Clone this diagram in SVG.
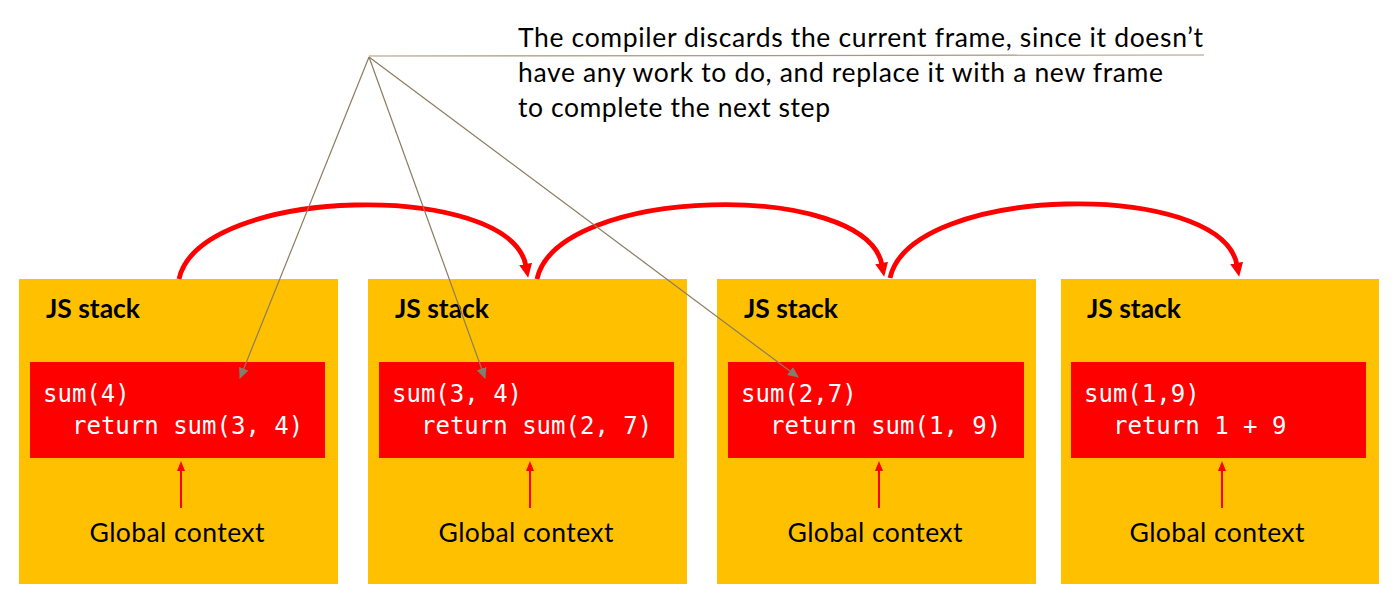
<svg xmlns="http://www.w3.org/2000/svg" width="1400" height="605" viewBox="0 0 1400 605">
<defs>
<style>
.box{fill:#FFC000;}
.frame{fill:#FF0000;}
.title{font-family:Lato,"Open Sans","Liberation Sans",sans-serif;font-weight:bold;font-size:26.5px;fill:#000;}
.code{font-family:"DejaVu Sans Mono","Liberation Mono",monospace;font-size:24px;fill:#fff;white-space:pre;}
.label{font-family:Lato,"Open Sans","Liberation Sans",sans-serif;font-size:26.5px;fill:#000;text-anchor:middle;}
.note{font-family:Lato,"Open Sans","Liberation Sans",sans-serif;font-size:26.5px;fill:#000;}
.jump{fill:none;stroke:#FF0000;stroke-width:4.8;marker-end:url(#redHead);}
.ctx{fill:none;stroke:#FF0000;stroke-width:2;marker-end:url(#smallRed);}
.pointer{fill:none;stroke:#8c7c5e;stroke-width:1.2;marker-end:url(#grayHead);}
</style>
<marker id="redHead" markerUnits="userSpaceOnUse" viewBox="0 0 14 13" markerWidth="14" markerHeight="13" refX="2" refY="6.5" orient="auto">
<path d="M0,0 L14,6.5 L0,13 z" fill="#FF0000"/>
</marker>
<marker id="smallRed" markerUnits="userSpaceOnUse" viewBox="0 0 10 8" markerWidth="10" markerHeight="8" refX="1" refY="4" orient="auto">
<path d="M0,0 L10,4 L0,8 z" fill="#FF0000"/>
</marker>
<marker id="grayHead" markerUnits="userSpaceOnUse" viewBox="0 0 11 10" markerWidth="11" markerHeight="10" refX="10" refY="5" orient="auto">
<path d="M0,0 L11,5 L0,10 z" fill="#7f7f6f"/>
</marker>
</defs>

<g id="stack1">
<rect class="box" x="19" y="279" width="319" height="305"/>
<text class="title" x="46" y="318" textLength="94">JS stack</text>
<rect class="frame" x="30" y="362" width="295" height="96"/>
<text class="code" x="43" y="402">sum(4)</text>
<text class="code" x="72" y="434">return sum(3, 4)</text>
<text class="label" x="177" y="542" textLength="175">Global context</text>
</g>

<g id="stack2">
<rect class="box" x="368" y="279" width="319" height="305"/>
<text class="title" x="395" y="318" textLength="94">JS stack</text>
<rect class="frame" x="379" y="362" width="295" height="96"/>
<text class="code" x="392" y="402">sum(3, 4)</text>
<text class="code" x="421" y="434">return sum(2, 7)</text>
<text class="label" x="526" y="542" textLength="175">Global context</text>
</g>

<g id="stack3">
<rect class="box" x="717" y="279" width="319" height="305"/>
<text class="title" x="744" y="318" textLength="94">JS stack</text>
<rect class="frame" x="728" y="362" width="296" height="96"/>
<text class="code" x="741" y="402">sum(2,7)</text>
<text class="code" x="770" y="434">return sum(1, 9)</text>
<text class="label" x="875" y="542" textLength="175">Global context</text>
</g>

<g id="stack4">
<rect class="box" x="1061" y="279" width="318" height="305"/>
<text class="title" x="1087" y="318" textLength="94">JS stack</text>
<rect class="frame" x="1071" y="362" width="295" height="96"/>
<text class="code" x="1084" y="402">sum(1,9)</text>
<text class="code" x="1113" y="434">return 1 + 9</text>
<text class="label" x="1217" y="542" textLength="175">Global context</text>
</g>

<g id="annotation">
<text class="note" x="518" y="47" textLength="685">The compiler discards the current frame, since it doesn’t</text>
<text class="note" x="518" y="82" textLength="645">have any work to do, and replace it with a new frame</text>
<text class="note" x="518" y="117" textLength="312">to complete the next step</text>
</g>

<g id="connectors">
<path class="jump" d="M179,279 C200,185 510,180 526,266"/>
<path class="jump" d="M537,279 C558,185 866,180 882,265"/>
<path class="jump" d="M890,278 C911,184 1221,179 1237,265"/>
<line class="ctx" x1="181" y1="508" x2="181" y2="470"/>
<line class="ctx" x1="530" y1="508" x2="530" y2="470"/>
<line class="ctx" x1="879" y1="508" x2="879" y2="470"/>
<line class="ctx" x1="1222" y1="508" x2="1222" y2="470"/>
<line x1="369" y1="56" x2="1204" y2="55" stroke="#a89878" stroke-width="1.2"/>
<line class="pointer" x1="369" y1="57" x2="240" y2="378"/>
<line class="pointer" x1="369" y1="57" x2="485" y2="378"/>
<line class="pointer" x1="369" y1="57" x2="798" y2="377"/>
</g>
</svg>
